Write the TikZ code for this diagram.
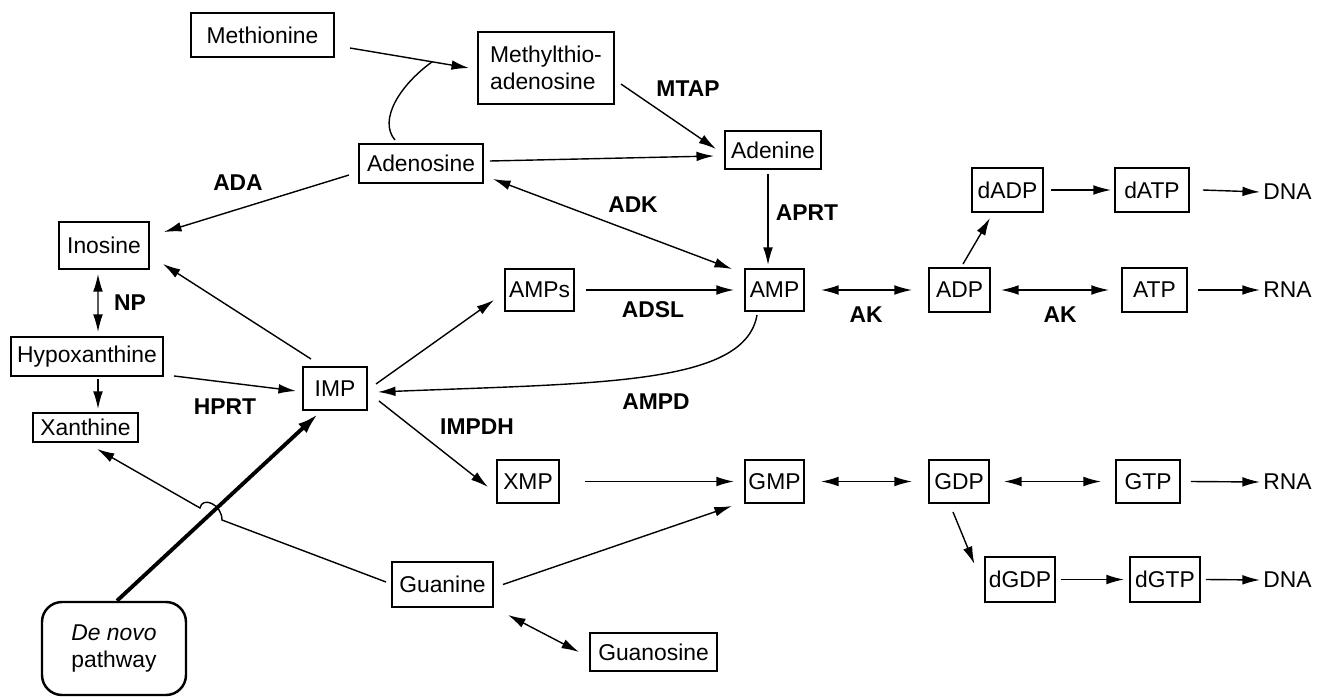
\documentclass[tikz,border=0pt]{standalone}
\usepackage{fontspec}
\setmainfont{Liberation Sans}
\usepackage{tikz}
\usetikzlibrary{positioning,arrows.meta,calc}

\begin{document}
\begin{tikzpicture}[
    y=-1cm,
    chem/.style={rectangle, draw=black, line width=1.1pt, fill=white,
                 align=center, inner sep=2pt, font=\fontsize{13}{15}\selectfont},
    start/.style={rectangle, rounded corners=0.4cm, draw=black, line width=1.4pt,
                  align=center, minimum width=2.88cm, minimum height=1.86cm,
                  font=\fontsize{13}{15}\selectfont},
    enz/.style={font=\fontsize{13}{15}\selectfont\bfseries, inner sep=1pt},
    sink/.style={font=\fontsize{13}{15}\selectfont, inner sep=0pt},
    link/.style={line width=0.8pt},
    flow/.style={-{Latex[length=10pt, width=5.5pt]}, line width=0.8pt},
    both/.style={{Latex[length=10pt, width=5.5pt]}-{Latex[length=10pt, width=5.5pt]}, line width=0.8pt},
    main/.style={-{Latex[length=12pt, width=7pt]}, line width=2.2pt}
]
\useasboundingbox (0,0) rectangle (26.4,13.94);

% --- salvage side (left) ---
\node[chem, minimum width=2.86cm, minimum height=0.88cm] (met) at (5.25,0.70) {Methionine};
\node[chem, align=left, minimum width=2.72cm, minimum height=1.44cm] (mta) at (10.92,1.36) {Methylthio-\\adenosine};
\node[chem, minimum width=2.48cm, minimum height=0.78cm] (ado) at (8.42,3.27) {Adenosine};
\node[chem, minimum width=1.92cm, minimum height=0.76cm] (ade) at (15.46,3.00) {Adenine};
\node[chem, minimum width=1.80cm, minimum height=0.94cm] (ino) at (2.08,4.91) {Inosine};
\node[chem, minimum width=3.04cm, minimum height=0.78cm] (hyp) at (1.74,7.13) {Hypoxanthine};
\node[chem, minimum width=2.10cm, minimum height=0.58cm] (xan) at (1.71,8.55) {Xanthine};
\node[chem, minimum width=1.28cm, minimum height=0.86cm] (imp) at (6.70,7.77) {IMP};
\node[chem, minimum width=2.02cm, minimum height=0.90cm] (gua) at (8.85,11.69) {Guanine};
\node[chem, minimum width=2.54cm, minimum height=0.76cm] (guo) at (13.07,13.04) {Guanosine};
\node[start] (dnv) at (2.28,12.97) {\textit{De novo}\\pathway};

% --- nucleotides (right) ---
\node[chem, minimum width=1.38cm, minimum height=0.84cm] (amps) at (10.79,5.80) {AMPs};
\node[chem, minimum width=1.18cm, minimum height=0.84cm] (amp) at (15.49,5.80) {AMP};
\node[chem, minimum width=1.22cm, minimum height=0.88cm] (adp) at (19.19,5.80) {ADP};
\node[chem, minimum width=1.30cm, minimum height=0.88cm] (atp) at (23.09,5.80) {ATP};
\node[chem, minimum width=1.42cm, minimum height=0.88cm] (dadp) at (20.15,3.80) {dADP};
\node[chem, minimum width=1.48cm, minimum height=0.88cm] (datp) at (23.04,3.80) {dATP};
\node[chem, minimum width=1.24cm, minimum height=0.86cm] (xmp) at (10.56,9.63) {XMP};
\node[chem, minimum width=1.18cm, minimum height=0.86cm] (gmp) at (15.49,9.63) {GMP};
\node[chem, minimum width=1.20cm, minimum height=0.86cm] (gdp) at (19.18,9.63) {GDP};
\node[chem, minimum width=1.28cm, minimum height=0.86cm] (gtp) at (22.96,9.63) {GTP};
\node[chem, minimum width=1.32cm, minimum height=0.90cm] (dgdp) at (20.40,11.59) {dGDP};
\node[chem, minimum width=1.40cm, minimum height=0.90cm] (dgtp) at (23.30,11.59) {dGTP};

\node[sink, anchor=west] (dnaA) at (25.26,3.84) {DNA};
\node[sink, anchor=west] (rnaA) at (25.26,5.80) {RNA};
\node[sink, anchor=west] (rnaB) at (25.26,9.64) {RNA};
\node[sink, anchor=west] (dnaB) at (25.26,11.60) {DNA};

% --- enzyme labels ---
\node[enz] (mtap)  at (13.76,1.78) {MTAP};
\node[enz] (ada)   at (4.76,3.66)  {ADA};
\node[enz] (adk)   at (12.66,4.10) {ADK};
\node[enz] (aprt)  at (16.14,4.26) {APRT};
\node[enz] (np)    at (2.60,6.06)  {NP};
\node[enz] (adsl)  at (13.06,6.20) {ADSL};
\node[enz] (akA)   at (17.32,6.30) {AK};
\node[enz] (akB)   at (21.20,6.30) {AK};
\node[enz] (hprt)  at (4.50,8.14)  {HPRT};
\node[enz] (ampd)  at (13.12,8.04) {AMPD};
\node[enz] (impdh) at (9.54,8.54)  {IMPDH};

% --- adenine branch ---
\draw[flow] ($(met.east)+(0.30,0.26)$) -- coordinate[pos=0.69] (join) ($(mta.west)+(-0.16,0)$);
\draw[link] ($(ado.north)+(-0.52,-0.06)$) .. controls (7.56,2.40) and (8.00,1.70) .. (join);
\draw[flow] ($(mta.east)+(0.12,0.32)$) -- ($(ade.west)+(-0.16,-0.02)$);
\draw[flow] ($(ado.east)+(0.12,-0.05)$) -- ($(ade.west)+(-0.20,0.12)$);
\draw[flow] ($(ado.west)+(-0.18,0.23)$) -- ($(ino.north east)+(0.28,0.22)$);
\draw[both] ($(ado.south east)+(0.18,-0.10)$) -- ($(amp.north west)+(-0.24,0.02)$);
\draw[flow] ($(ade.south)+(-0.10,0.08)$) -- ($(amp.north)+(-0.13,-0.06)$);
\draw[flow] ($(amps.east)+(0.22,0)$) -- ($(amp.west)+(-0.20,0)$);
\draw[flow] ($(amp.south)+(-0.35,0.06)$) .. controls (14.90,7.70) and (12.00,7.66) .. ($(imp.east)+(0.20,0.07)$);

% --- IMP hub ---
\draw[flow] ($(imp.east)+(0.16,-0.09)$) -- ($(amps.west)+(-0.20,0.20)$);
\draw[flow] ($(imp.north west)+(0.18,-0.14)$) -- ($(ino.south east)+(0.26,-0.12)$);
\draw[both] ($(ino.south)+(-0.12,0.08)$) -- ($(hyp.north)+(0.22,-0.08)$);
\draw[flow] ($(hyp.south)+(0.22,0.04)$) -- ($(xan.north)+(0.25,-0.06)$);
\draw[flow] ($(hyp.south east)+(0.20,-0.02)$) -- ($(imp.west)+(-0.12,0.05)$);
\draw[flow] ($(imp.south east)+(0.22,-0.20)$) -- ($(xmp.west)+(-0.16,0.11)$);
\draw[main] ($(dnv.north)+(0.06,0)$) -- ($(imp.south)+(-0.34,0.06)$);

% --- guanine branch ---
\coordinate (hopR) at (4.44,10.40);
\coordinate (hopL) at (4.00,10.16);
\draw[flow] ($(gua.west)+(-0.10,-0.05)$) -- (hopR)
    .. controls (4.44,10.08) and (4.04,9.92) .. (hopL) -- ($(xan.south)+(0.23,0.12)$);
\draw[flow] ($(xmp.east)+(0.50,0)$) -- ($(gmp.west)+(-0.20,0)$);
\draw[flow] ($(gua.east)+(0.18,0)$) -- ($(gmp.south west)+(-0.24,0.04)$);
\draw[both] ($(gua.south east)+(0.28,0.14)$) -- ($(guo.west)+(-0.20,0)$);

% --- phosphorylation steps ---
\draw[both] ($(amp.east)+(0.32,0)$) -- ($(adp.west)+(-0.32,0)$);
\draw[both] ($(adp.east)+(0.20,0)$) -- ($(atp.west)+(-0.24,0)$);
\draw[flow] ($(adp.north)+(0.07,-0.06)$) -- ($(dadp.south)+(-0.35,0.10)$);
\draw[flow] ($(dadp.east)+(0.14,0)$) -- ($(datp.west)+(-0.06,0)$);
\draw[flow] ($(datp.east)+(0.26,0)$) -- ($(dnaA.west)+(-0.06,0)$);
\draw[flow] ($(atp.east)+(0.20,0)$) -- ($(rnaA.west)+(-0.06,0)$);
\draw[both] ($(gmp.east)+(0.32,0)$) -- ($(gdp.west)+(-0.32,0)$);
\draw[both] ($(gdp.east)+(0.28,0)$) -- ($(gtp.west)+(-0.28,0)$);
\draw[flow] ($(gtp.east)+(0.20,0)$) -- ($(rnaB.west)+(-0.06,0)$);
\draw[flow] ($(gdp.south)+(-0.12,0.16)$) -- ($(dgdp.north west)+(-0.20,0.16)$);
\draw[flow] ($(dgdp.east)+(0.10,0)$) -- ($(dgtp.west)+(-0.10,0)$);
\draw[flow] ($(dgtp.east)+(0.10,0)$) -- ($(dnaB.west)+(-0.06,0)$);

\end{tikzpicture}
\end{document}
